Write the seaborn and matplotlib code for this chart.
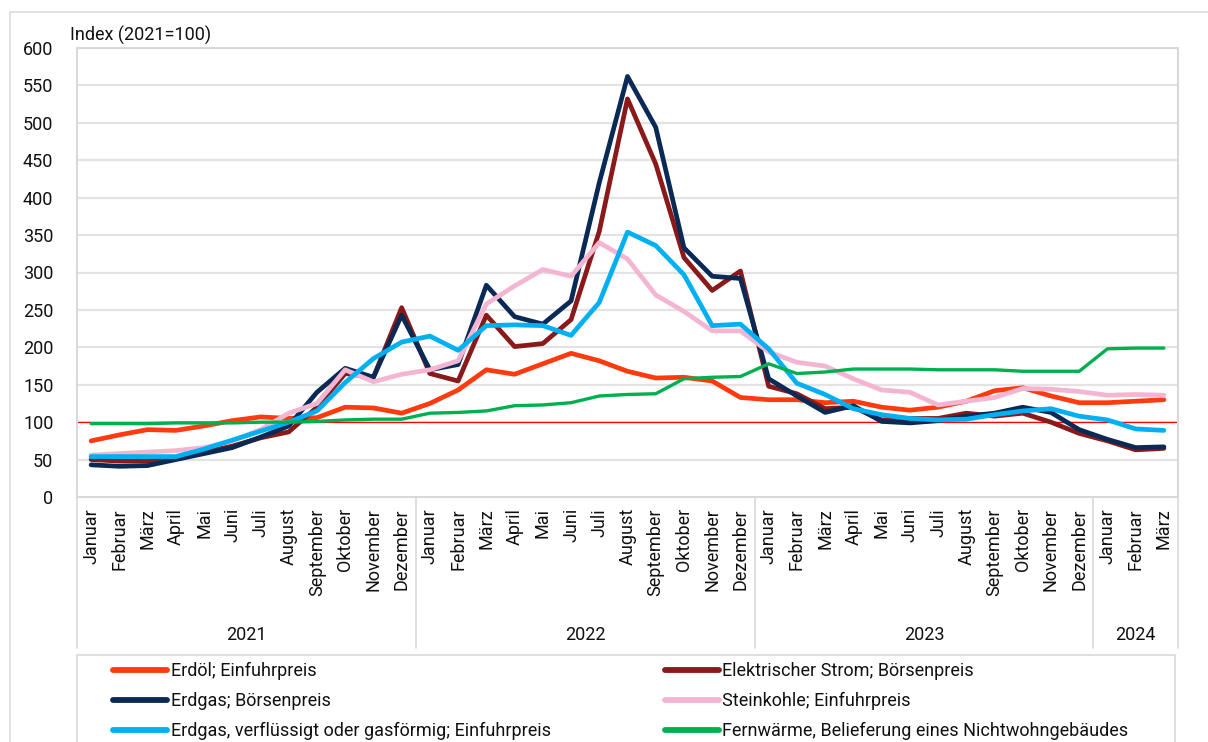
"""
plot.py
-------
Preisindizes ausgewählter Energieträger (2021=100), Januar 2021 bis März 2024.
"""

import numpy as np
import pandas as pd
import matplotlib.pyplot as plt
import matplotlib.transforms as mtransforms
from matplotlib.patches import Rectangle
from matplotlib.lines import Line2D
import seaborn as sns

# =====================================================================
# DATEN
# =====================================================================
MONATE = ["Januar", "Februar", "März", "April", "Mai", "Juni", "Juli", "August",
          "September", "Oktober", "November", "Dezember"]
MONAT_LABELS = MONATE * 3 + MONATE[:3]
JAHRE = ["2021", "2022", "2023", "2024"]
JAHR_LAENGE = [12, 12, 12, 3]

erdoel = [75, 83, 90, 89, 95, 102, 107, 105, 106, 120, 119, 112,
          125, 143, 170, 164, 178, 192, 182, 168, 159, 160, 155, 133,
          130, 130, 126, 128, 120, 116, 120, 128, 142, 146, 135, 126,
          126, 128, 130]
strom = [50, 48, 48, 52, 60, 68, 79, 87, 120, 165, 160, 253,
         165, 155, 243, 201, 205, 237, 355, 532, 445, 320, 276, 302,
         148, 138, 118, 120, 103, 105, 105, 112, 108, 112, 100, 85,
         75, 63, 65]
erdgas = [43, 41, 42, 50, 58, 66, 80, 95, 140, 172, 160, 243,
          170, 177, 283, 241, 231, 262, 420, 562, 494, 333, 295, 292,
          158, 135, 113, 122, 101, 99, 102, 108, 112, 120, 113, 90,
          77, 66, 67]
steinkohle = [56, 58, 60, 62, 66, 75, 90, 112, 125, 170, 154, 164,
              170, 182, 258, 282, 304, 295, 340, 318, 270, 248, 222, 222,
              194, 180, 175, 158, 143, 140, 123, 128, 133, 145, 144, 141,
              136, 137, 136]
lng = [54, 54, 54, 54, 64, 76, 88, 100, 115, 153, 185, 207,
       215, 196, 229, 230, 229, 216, 260, 354, 336, 297, 229, 231,
       198, 152, 137, 118, 110, 105, 103, 104, 110, 115, 118, 108,
       103, 91, 89]
fernwaerme = [98, 98, 98, 99, 99, 99, 100, 100, 101, 103, 104, 104,
              112, 113, 115, 122, 123, 126, 135, 137, 138, 158, 160, 161,
              178, 165, 167, 171, 171, 171, 170, 170, 170, 168, 168, 168,
              198, 199, 199]

SERIEN = {
    "Erdöl; Einfuhrpreis": erdoel,
    "Elektrischer Strom; Börsenpreis": strom,
    "Erdgas; Börsenpreis": erdgas,
    "Steinkohle; Einfuhrpreis": steinkohle,
    "Erdgas, verflüssigt oder gasförmig; Einfuhrpreis": lng,
    "Fernwärme, Belieferung eines Nichtwohngebäudes": fernwaerme,
}
FARBEN = {
    "Erdöl; Einfuhrpreis": "#ff3a0f",
    "Elektrischer Strom; Börsenpreis": "#8a1a1a",
    "Erdgas; Börsenpreis": "#0a2a55",
    "Steinkohle; Einfuhrpreis": "#f4b5d3",
    "Erdgas, verflüssigt oder gasförmig; Einfuhrpreis": "#00b0f0",
    "Fernwärme, Belieferung eines Nichtwohngebäudes": "#00b050",
}
BREITEN = {k: 3.4 for k in SERIEN}
BREITEN["Fernwärme, Belieferung eines Nichtwohngebäudes"] = 2.4

# =====================================================================
# STIL
# =====================================================================
sns.set_theme(style="white")
plt.rcParams['font.family'] = ['Roboto', 'DejaVu Sans']
plt.rcParams['text.color'] = '#111111'
plt.rcParams['xtick.color'] = '#111111'
plt.rcParams['ytick.color'] = '#111111'
GRID = '#e3e3e3'
FS = 13

df = pd.DataFrame(
    [(i, name, v) for name, vals in SERIEN.items() for i, v in enumerate(vals)],
    columns=["monat", "serie", "index"],
)

W, H = 1208, 742
fig = plt.figure(figsize=(W / 100, H / 100), dpi=100)
ax = fig.add_axes([77 / W, 1 - 497 / H, (1178 - 77) / W, (497 - 48) / H])

# äußerer Rahmen
fig.patches.append(Rectangle((10 / W, -0.1), 1.2, 1 - 12 / H + 0.1, transform=fig.transFigure,
                             fill=False, edgecolor='#dcdcdc', linewidth=1.2, zorder=0))

for y in range(50, 601, 50):
    ax.axhline(y, color=GRID, linewidth=1.6, zorder=0)
ax.axhline(100, color='#ff0000', linewidth=0.9, zorder=1)

for name in SERIEN:
    sub = df[df["serie"] == name]
    sns.lineplot(data=sub, x="monat", y="index", color=FARBEN[name],
                 linewidth=BREITEN[name], ax=ax, legend=False, zorder=3)

ax.set_xlim(-0.5, len(MONAT_LABELS) - 0.5)
ax.set_ylim(0, 600)
ax.set_yticks(range(0, 601, 50))
ax.set_yticklabels([str(v) for v in range(0, 601, 50)], fontsize=FS)
ax.set_xticks(range(len(MONAT_LABELS)))
ax.set_xticklabels(MONAT_LABELS, rotation=90, fontsize=FS)
ax.tick_params(axis='both', length=0)
ax.tick_params(axis='y', pad=17)
ax.tick_params(axis='x', pad=8)
ax.set_xlabel("")
ax.set_ylabel("")
for side in ax.spines.values():
    side.set_color('#d9d9d9')
    side.set_linewidth(1.5)

# Jahrestrenner und Jahresbeschriftung
trans = mtransforms.blended_transform_factory(ax.transData, ax.transAxes)
y_bas = -(648 - 497) / (497 - 48)
y_jahr = -(635 - 497) / (497 - 48)
start = 0
grenzen = [-0.5]
for jahr, n in zip(JAHRE, JAHR_LAENGE):
    mitte = start + (n - 1) / 2
    ax.text(mitte, y_jahr, jahr, transform=trans, ha='center', va='center', fontsize=FS)
    start += n
    grenzen.append(start - 0.5)
for g in grenzen:
    ax.plot([g, g], [0, y_bas], transform=trans, color='#d9d9d9', linewidth=1.2, clip_on=False)

fig.text(70 / W, 1 - 35 / H, "Index (2021=100)", fontsize=FS, va='center', ha='left')

# Legende (zeilenweise gefüllt wie im Original)
fig.patches.append(Rectangle((77 / W, -0.05), (1175 - 77) / W, 1 - 655 / H + 0.05,
                             transform=fig.transFigure, fill=False,
                             edgecolor='#d9d9d9', linewidth=1.2))
namen = list(SERIEN.keys())
reihenfolge = namen[0::2] + namen[1::2]
handles = [Line2D([], [], color=FARBEN[n], linewidth=4.2, solid_capstyle='round') for n in reihenfolge]
fig.legend(handles, reihenfolge, ncol=2, loc='upper left',
           bbox_to_anchor=(113 / W, 1 - 662 / H),
           frameon=False, fontsize=FS, handlelength=3.0,
           handletextpad=0.2, labelspacing=0.66, columnspacing=6.3,
           borderpad=0, borderaxespad=0)

fig.savefig("out.png", dpi=100)
